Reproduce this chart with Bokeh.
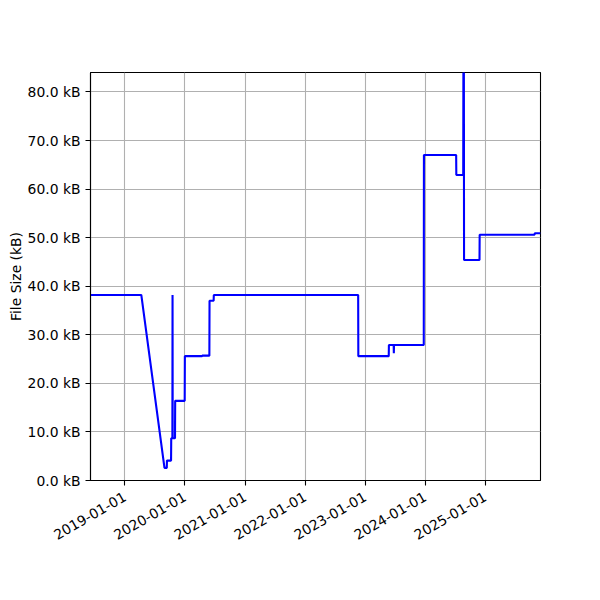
import math
from datetime import datetime
from bokeh.plotting import figure
from bokeh.models import (ColumnDataSource, Range1d, FixedTicker,
                          DatetimeTickFormatter, PrintfTickFormatter)
from bokeh.embed import file_html
from bokeh.resources import INLINE

# ---- data ----
dates = [
    "2018-06-06", "2019-04-11", "2019-08-30", "2019-09-13", "2019-09-14",
    "2019-10-09", "2019-10-10", "2019-10-17", "2019-10-18", "2019-10-19",
    "2019-11-02", "2019-11-03", "2019-12-31", "2020-01-01", "2020-04-15",
    "2020-04-16", "2020-05-29", "2020-05-30", "2020-06-24", "2020-06-25",
    "2022-11-20", "2022-11-21", "2023-05-25", "2023-05-26", "2023-06-24",
    "2023-06-25", "2023-06-26", "2023-12-24", "2023-12-25", "2024-07-08",
    "2024-07-09", "2024-08-20", "2024-08-21", "2024-08-24", "2024-08-25",
    "2024-11-27", "2024-11-28", "2025-10-28", "2025-10-29", "2025-12-03",
]
sizes_kb = [
    38.2, 38.2, 2.6, 2.6, 4.1,
    4.1, 8.7, 8.7, 38.2, 8.7,
    8.7, 16.4, 16.4, 25.6, 25.6,
    25.7, 25.7, 37.0, 37.0, 38.2,
    38.2, 25.6, 25.6, 27.9, 27.9,
    26.2, 27.9, 27.9, 67.0, 67.0,
    62.9, 62.9, 84.0, 84.0, 45.4,
    45.4, 50.6, 50.6, 50.9, 50.9,
]
x_tick_dates = ["2019-01-01", "2020-01-01", "2021-01-01", "2022-01-01",
                "2023-01-01", "2024-01-01", "2025-01-01"]
y_ticks = [0, 10, 20, 30, 40, 50, 60, 70, 80]
y_max = 84.0

def to_dt(s):
    return datetime.strptime(s, "%Y-%m-%d")

def to_ms(s):
    return (to_dt(s) - datetime(1970, 1, 1)).total_seconds() * 1000.0

xs = [to_dt(d) for d in dates]
source = ColumnDataSource(data=dict(date=xs, size=sizes_kb))

FONT = "DejaVu Sans"
FS = "13.9px"

p = figure(width=600, height=600, x_axis_type="datetime",
           x_range=Range1d(xs[0], xs[-1]), y_range=Range1d(0, y_max),
           output_backend="svg", toolbar_location=None,
           min_border_left=90, min_border_right=60,
           min_border_top=72, min_border_bottom=120)

p.line(x="date", y="size", source=source, line_color="blue", line_width=2.1)

p.outline_line_color = "black"
p.outline_line_width = 1.1
p.outline_line_alpha = 1.0
p.background_fill_color = "white"
p.border_fill_color = "white"

for g in (p.xgrid[0], p.ygrid[0]):
    g.grid_line_color = "#b0b0b0"
    g.grid_line_width = 1.1
    g.grid_line_alpha = 1.0

xa = p.xaxis[0]
xa.ticker = FixedTicker(ticks=[to_ms(d) for d in x_tick_dates])
xa.formatter = DatetimeTickFormatter(
    years="%Y-%m-%d", months="%Y-%m-%d", days="%Y-%m-%d",
    hours="%Y-%m-%d", minutes="%Y-%m-%d", seconds="%Y-%m-%d",
    milliseconds="%Y-%m-%d", microseconds="%Y-%m-%d")
xa.major_label_orientation = math.pi / 6

ya = p.yaxis[0]
ya.ticker = FixedTicker(ticks=y_ticks)
ya.formatter = PrintfTickFormatter(format="%.1f kB")
ya.axis_label = "File Size (kB)"

for ax in (xa, ya):
    ax.axis_line_color = "black"
    ax.axis_line_width = 1.1
    ax.major_tick_line_color = "black"
    ax.major_tick_line_width = 1.1
    ax.major_tick_out = 5
    ax.major_tick_in = 0
    ax.minor_tick_line_color = None
    ax.major_label_text_font = FONT
    ax.major_label_text_font_size = FS
    ax.major_label_text_color = "black"
    ax.axis_label_text_font = FONT
    ax.axis_label_text_font_size = FS
    ax.axis_label_text_font_style = "normal"
    ax.axis_label_text_color = "black"

xa.major_label_standoff = 10
ya.major_label_standoff = 5
ya.axis_label_standoff = 1

open("out.html", "w").write(file_html(p, INLINE))
